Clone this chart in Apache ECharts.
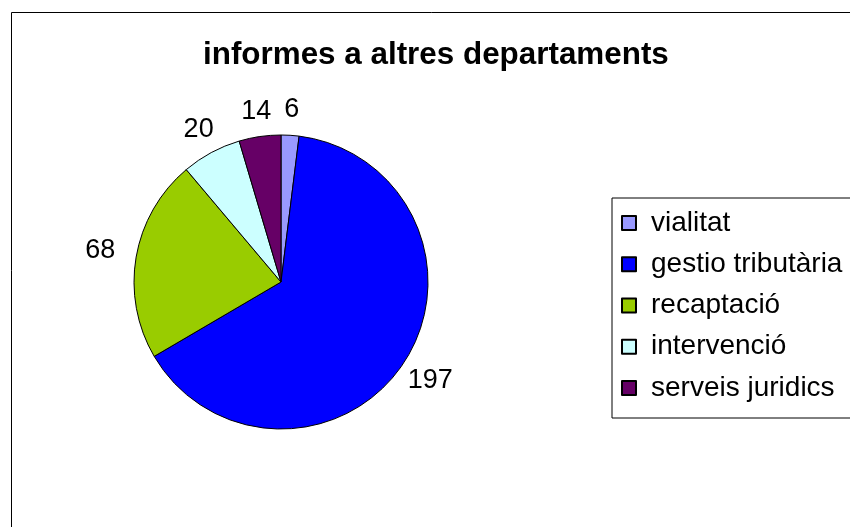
<!DOCTYPE html>
<html>
<head>
<meta charset="utf-8">
<script src="https://cdn.jsdelivr.net/npm/echarts@6/dist/echarts.min.js"></script>
<style>html,body{margin:0;padding:0;background:#fff}#c{width:850px;height:527px}</style>
</head>
<body>
<div id="c"></div>
<script>
const titleText = 'informes a altres departaments';
const categories = ['vialitat', 'gestio tributària', 'recaptació', 'intervenció', 'serveis juridics'];
const values = [6, 197, 68, 20, 14];
const colors = ['#9999FF', '#0000FF', '#99CC00', '#CCFFFF', '#660066'];

const font = '"Liberation Sans", Arial, sans-serif';
const labelFontSize = 27;
const pieCenter = [281, 282];
const pieData = categories.map((n, i) => ({ name: n, value: values[i], itemStyle: { color: colors[i] } }));
const labelData = categories.map((n, i) => ({ name: n, value: values[i] }));

// push each value label outward so that its box edge sits at the ring radius
function labelLayout(params) {
  const r = params.labelRect;
  const lx = r.x + r.width / 2, ly = r.y + r.height / 2;
  const dx = lx - pieCenter[0], dy = ly - pieCenter[1];
  const d = Math.sqrt(dx * dx + dy * dy) || 1;
  const ux = dx / d, uy = dy / d;
  const hw = r.width / 2 + 3, hh = labelFontSize * 0.28;
  const ext = Math.min(Math.abs(ux) > 1e-6 ? hw / Math.abs(ux) : 1e9, Math.abs(uy) > 1e-6 ? hh / Math.abs(uy) : 1e9);
  return { x: pieCenter[0] + ux * (d + ext), y: pieCenter[1] + uy * (d + ext), align: 'center', verticalAlign: 'middle' };
}

const chart = echarts.init(document.getElementById('c'), null, { renderer: 'canvas' });
chart.setOption({
  backgroundColor: '#fff',
  animation: false,
  title: {
    text: titleText,
    left: 198,
    top: 35,
    textAlign: 'left',
    padding: 5,
    textStyle: { fontFamily: font, fontSize: 31.4, fontWeight: 'bold', color: '#000' }
  },
  legend: {
    orient: 'vertical',
    left: 612,
    top: 198,
    padding: [11, 40, 16, 9],
    itemWidth: 14,
    itemHeight: 14,
    itemGap: 13.25,
    icon: 'rect',
    borderColor: '#000',
    borderWidth: 1,
    borderRadius: 0,
    backgroundColor: '#fff',
    data: categories,
    textStyle: { fontFamily: font, fontSize: 28, lineHeight: 28, color: '#000', padding: [0, 0, 0, 10] }
  },
  graphic: [{
    type: 'rect', z: -1, silent: true,
    shape: { x: 11.5, y: 12.5, width: 1000, height: 1000 },
    style: { fill: 'none', stroke: '#000', lineWidth: 1 }
  }],
  series: [{
    type: 'pie',
    center: pieCenter,
    radius: 147,
    startAngle: 90,
    clockwise: true,
    silent: true,
    label: { show: false },
    labelLine: { show: false },
    itemStyle: { borderColor: '#000', borderWidth: 1 },
    data: pieData
  }, {
    type: 'pie',
    center: pieCenter,
    radius: [160, 164],
    startAngle: 90,
    clockwise: true,
    silent: true,
    itemStyle: { color: 'rgba(0,0,0,0)', borderWidth: 0 },
    label: { show: true, position: 'inside', formatter: '{c}', fontFamily: font, fontSize: labelFontSize, color: '#000' },
    labelLine: { show: false },
    labelLayout: labelLayout,
    data: labelData
  }]
});
</script>
</body>
</html>
